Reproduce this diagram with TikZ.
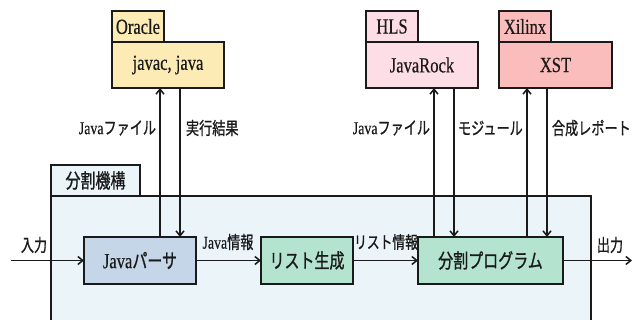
\documentclass[tikz,border=0pt]{standalone}
\usepackage{fontspec}
\setmainfont{Liberation Serif}[FakeStretch=0.77,FakeBold=0.4]
\newfontfamily\jp{Noto Sans CJK JP}[FakeStretch=0.75,FakeBold=0.9]
\usetikzlibrary{arrows.meta}

\definecolor{oraclefill}{HTML}{FDEBB6}
\definecolor{hlsfill}{HTML}{FDDDE6}
\definecolor{xilinxfill}{HTML}{FBBDBB}
\definecolor{framefill}{HTML}{EBF4F8}
\definecolor{parserfill}{HTML}{C6D6E9}
\definecolor{greenfill}{HTML}{B4E4D0}
\definecolor{ink}{HTML}{1A1A1A}

\newcommand\bxfont{\fontsize{21.5}{23}\selectfont}
\newcommand\jpbxfont{\fontsize{20}{22}\selectfont}
\newcommand\lbfont{\fontsize{18}{20}\selectfont}
\newcommand\jplbfont{\fontsize{17.5}{19}\selectfont}

\begin{document}
\begin{tikzpicture}[x=1pt,y=-1pt,
  every node/.style={inner sep=0pt, outer sep=0pt, text=ink},
  box/.style={draw=ink, line width=1.7pt, anchor=north west, font=\bxfont},
  jpbox/.style={box, font=\jp\jpbxfont},
  arr/.style={draw=ink, line width=1.5pt, -{Straight Barb[length=5pt,width=8pt,line width=1.5pt]}},
  lbl/.style={font=\lbfont},
  jplbl/.style={font=\jp\jplbfont}]
\useasboundingbox (0,0) rectangle (639,320);
\clip (0,0) rectangle (639,320);

% partition unit (container, runs off the bottom edge)
\node[draw=ink, line width=1.7pt, fill=framefill, anchor=north west,
      minimum width=540, minimum height=160] (frame) at (51,196) {};
\node[jpbox, fill=framefill, minimum width=89, minimum height=31]
      (frametab) at (51,165) {分割機構};

% external tools
\node[box, fill=oraclefill, minimum width=52, minimum height=31] (oracletab) at (112,11) {Oracle};
\node[box, fill=oraclefill, minimum width=112, minimum height=46] (oracle) at (112,42) {javac, java};
\node[box, fill=hlsfill, minimum width=52, minimum height=31] (hlstab) at (366,11) {HLS};
\node[box, fill=hlsfill, minimum width=112, minimum height=46] (hls) at (366,42) {JavaRock};
\node[box, fill=xilinxfill, minimum width=52, minimum height=31] (xilinxtab) at (499,11) {Xilinx};
\node[box, fill=xilinxfill, minimum width=113, minimum height=46] (xst) at (499,42) {XST};

% processing stages
\node[box, fill=parserfill, minimum width=112, minimum height=47] (parser) at (84,237) {Java{\jp\jpbxfont パーサ}};
\node[jpbox, fill=greenfill, minimum width=92, minimum height=47] (list) at (261,237) {リスト生成};
\node[jpbox, fill=greenfill, minimum width=145, minimum height=47] (prog) at (418,237) {分割プログラム};

% input / output ends
\coordinate (in) at (11,260.5);
\coordinate (out) at (632,260.5);

% main flow
\draw[arr] (in) -- (in -| parser.west);
\draw[arr] (parser) -- (list);
\draw[arr] (list) -- (prog);
\draw[arr] (prog.east) -- (out);

% tool exchanges
\draw[arr] ([xshift=20pt]parser.north) -- ([xshift=20pt]parser.north |- oracle.south);
\draw[arr] ([xshift=40pt]parser.north |- oracle.south) -- ([xshift=40pt]parser.north);
\draw[arr] ([xshift=-56.5pt]prog.north) -- ([xshift=-56.5pt]prog.north |- hls.south);
\draw[arr] ([xshift=-36.5pt]prog.north |- hls.south) -- ([xshift=-36.5pt]prog.north);
\draw[arr] ([xshift=36.5pt]prog.north) -- ([xshift=36.5pt]prog.north |- xst.south);
\draw[arr] ([xshift=56.5pt]prog.north |- xst.south) -- ([xshift=56.5pt]prog.north);

% labels
\node[lbl, anchor=east] (l1) at (156,128) {Java{\jp\jplbfont ファイル}};
\node[jplbl, anchor=west] (l2) at (186,128) {実行結果};
\node[lbl, anchor=east] (l3) at (430,128) {Java{\jp\jplbfont ファイル}};
\node[jplbl, anchor=west] (l4) at (458,128) {モジュール};
\node[jplbl, anchor=west] (l5) at (552,128) {合成レポート};
\node[jplbl] (lin) at (34,245) {入力};
\node[lbl] (l6) at (228,242) {Java{\jp\jplbfont 情報}};
\node[jplbl, font=\jp\fontsize{17}{19}\selectfont] (l7) at (386,242) {リスト情報};
\node[jplbl] (lout) at (610,245) {出力};
\end{tikzpicture}
\end{document}
